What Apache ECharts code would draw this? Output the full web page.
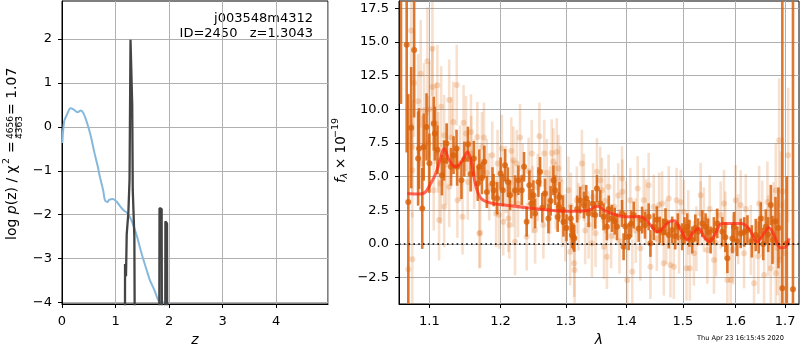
<!DOCTYPE html>
<html>
<head>
<meta charset="utf-8">
<script src="https://cdn.jsdelivr.net/npm/echarts@6/dist/echarts.min.js"></script>
<style>
html,body{margin:0;padding:0;background:#fff;}
#main{width:800px;height:350px;}
</style>
</head>
<body>
<div id="main"></div>
<script>
// ---- left panel: p(z) and chi2 ----
var pzZ = [0.006,0.04,0.09,0.16,0.22,0.29,0.35,0.40,0.47,0.54,0.60,0.66,0.71,0.77,0.80,0.85,0.88,0.95,1.02,1.08,1.15,1.22,1.28,1.33,1.40,1.46,1.52,1.58,1.64,1.71,1.76,1.80,1.86,1.96];
var pzLog = [-0.37,0.12,0.27,0.42,0.39,0.33,0.37,0.31,0.08,-0.22,-0.56,-0.86,-1.15,-1.45,-1.66,-1.71,-1.66,-1.64,-1.70,-1.80,-1.90,-1.96,-2.08,-2.23,-2.49,-2.76,-3.02,-3.25,-3.48,-3.67,-3.82,-3.95,-3.99,-4.0];

var chiZ = [1.175,1.178,1.19,1.196,1.209,1.24,1.262,1.28,1.295,1.312,1.322,1.346,1.352,1.364,1.815,1.822,1.862,1.868,1.928,1.932,1.962,1.968];
var chiVal = [-6,-3.12,-3.2,-3.4,-2.45,-1.95,-1.2,1.98,1.98,0.5,-1.43,-1.45,-2.5,-6,-6,-1.85,-1.87,-6,-6,-2.15,-2.2,-6];

var zTicks = [-4,-3,-2,-1,0,1,2];

// ---- right panel: spectrum ----
var modelWave = [1.0708,1.0862,1.0929,1.1019,1.1087,1.1156,1.1201,1.1270,1.1363,1.1456,1.1526,1.1575,1.1646,1.1717,1.1836,1.2057,1.2497,1.3018,1.3341,1.3504,1.3670,1.4013,1.4243,1.4419,1.4541,1.4749,1.4840,1.4961,1.5085,1.5178,1.5296,1.5392,1.5486,1.5613,1.5742,1.6098,1.6262,1.6430,1.6563,1.6665,1.6768,1.6906,1.6975,1.7080];
var modelFlux = [3.76,3.72,3.78,4.5,5.24,6.47,7.09,6.22,5.73,6.22,6.84,6.22,4.25,3.40,3.07,2.89,2.64,2.44,2.47,2.81,2.40,2.02,2.02,1.41,0.91,1.65,1.73,1.04,0.30,0.79,1.16,0.54,0.17,0.79,1.53,1.53,1.16,0.17,0.79,1.21,0.67,-0.27,-0.27,0.42];

var darkWave = [1.0625,1.0699,1.0720,1.0758,1.0797,1.0850,1.0862,1.0905,1.0924,1.0962,1.1059,1.1073,1.1170,1.1236,1.1296,1.1372,1.1380,1.1441,1.1532,1.1615,1.1671,1.1694,1.1765,1.1802,1.1883,1.1900,1.2002,
  1.2034,1.2067,1.2141,1.2216,1.2266,1.2316,1.2351,1.2391,1.2432,1.2494,1.2519,1.2571,1.2596,1.2673,1.2725,1.2803,1.2830,1.2888,1.2898,1.2952,1.2961,1.3079,1.3095,1.3121,1.3134,1.3229,1.3328,1.3366,1.3475,1.3503,1.3558,1.3613,
  1.3669,1.3754,1.3839,1.3924,1.3951,1.4037,1.4124,1.4211,1.4270,1.4386,1.4416,1.4475,1.4582,1.4684,1.4744,1.4805,1.4908,1.4988,1.5080,1.5173,1.5279,1.5361,
  1.5423,1.5518,1.5645,1.5742,1.5839,1.5937,1.5968,1.6100,1.6233,1.6399,1.6500,1.6601,1.6704,1.6738,1.6860,1.6941,1.7035,1.7163,
  1.1000,1.1110,1.1200,1.1330,1.1480,1.1570,1.1730,1.1950,1.2110,1.2460,1.2630,1.2760,1.2870,1.3010,1.3180,1.3290,1.3430,1.3700,1.3800,
  1.3980,1.4080,1.4320,1.4530,1.4640,1.4860,1.5030,1.5120,1.5230,1.5470,1.5580,1.5800,1.6030,1.6170,1.6320,1.6460,1.6550,1.6650,1.6800];
var darkFlux = [20.0,14.8,3.13,8.64,14.4,6.35,7.09,2.64,7.2,8.69,8.94,8.2,5.11,7.46,5.73,7.09,5.73,4.74,7.41,6.35,4.5,5.73,6.1,3.87,4.5,4.0,5.23,
  4.0,5.85,3.63,4.0,4.74,4.0,5.73,1.65,4.37,3.63,2.27,4.6,5.36,3.75,1.9,4.74,4.0,2.76,3.5,2.52,1.65,1.9,0.67,0.54,0.42,3.26,3.38,2.27,2.15,4.12,3.01,2.02,
  1.28,1.9,1.28,2.27,-0.2,0.54,2.15,1.16,1.78,2.02,0.05,1.28,1.04,1.65,0.67,1.04,1.28,0.54,1.28,0.30,0.91,1.53,
  1.28,0.30,1.53,0.91,-1.06,0.42,1.28,0.79,1.04,0.67,1.9,1.28,2.89,0.3,1.2,-3.28,0.05,-3.36,
  6.0,7.0,6.2,6.6,6.3,5.2,4.9,3.4,4.6,3.0,2.7,3.2,2.0,1.2,2.6,2.9,3.0,2.6,1.7,
  1.3,1.5,1.4,1.8,0.9,0.6,1.0,0.8,1.2,0.9,1.0,0.5,0.2,0.9,0.2,0.5,0.0,0.7,1.7];
var darkErr = [9.6,8,8,4.5,5,3.5,3,3,2.5,2.5,2,2,1.5,1.5,1.4,1.4,1.4,1.4,1.3,1.3,1.3,1.3,1.2,1.2,1.2,1.2,1.2,
  1.2,1.2,1.1,1.1,1.1,1.1,1.1,1.1,1.1,1.1,1.1,1.1,1.1,1.1,1.1,1.1,1.1,1.1,1.1,1.1,1.1,1.0,1.0,1.0,1.0,1.0,1.0,1.0,1.0,1.0,1.0,1.0,
  1.0,1.0,1.0,1.0,1.0,1.0,1.0,1.0,1.0,1.0,1.0,1.0,1.0,1.0,1.0,1.0,1.0,1.0,1.0,1.0,1.0,1.0,
  1.0,1.0,1.1,1.1,1.1,1.1,1.1,1.1,1.1,1.2,1.2,1.3,1.5,1.8,3,22,5,25,
  2.2,1.8,1.5,1.4,1.3,1.3,1.2,1.2,1.1,1.1,1.1,1.1,1.1,1.0,1.0,1.0,1.0,1.0,1.0,
  1.0,1.0,1.0,1.0,1.0,1.0,1.0,1.0,1.0,1.0,1.0,1.1,1.1,1.1,1.2,1.2,1.2,1.3,1.8];

var lightWave = [1.0720,1.0757,1.0773,1.0773,1.0773,1.0796,1.0884,1.0929,1.0974,1.1041,1.1041,1.1059,1.1086,1.1108,1.1132,1.1156,1.1201,1.1201,1.1270,1.1270,1.1326,1.1375,1.1384,1.1456,1.1505,1.1574,1.1580,1.1665,1.1693,1.1705,1.1731,1.1836,1.1936,1.1957,1.1980,
  1.2021,1.2041,1.2116,1.2131,1.2191,1.2216,1.2241,1.2291,1.2186,1.2331,1.2391,1.2468,1.2519,1.2585,1.2647,1.2660,1.2751,1.2777,1.2803,1.2856,1.2882,1.2940,1.3041,1.3068,1.3132,1.3140,1.3175,1.3202,1.3257,1.3366,1.3420,1.3503,1.3558,
  1.3586,1.3620,1.3669,1.3697,1.3790,1.3924,1.3930,1.4013,1.4066,1.4100,1.4193,1.4240,1.4299,1.4386,1.4416,1.4475,1.4624,1.4654,1.4744,1.4774,1.4835,1.4885,1.5019,1.5067,1.5128,1.5204,1.5329,1.5330,
  1.5455,1.5582,1.5710,1.5774,1.5839,1.5903,1.6001,1.6100,1.6166,1.6365,1.6466,1.6567,1.6635,1.6704,1.6806,1.6806,1.6875,1.6890,1.6910,1.6990,1.7062,
  1.0850,1.0905,1.0990,1.1000,1.1120,1.1160,1.1230,1.1300,1.1420,1.1470,1.1530,1.1620,1.1760,1.1800,1.1880,1.2080,1.2160,1.2260,1.2420,1.2480,
  1.2560,1.2700,1.2730,1.2840,1.2910,1.2990,1.3080,1.3290,1.3310,1.3440,1.3480,1.3640,1.3740,1.3860,1.3880,1.3990,1.4160,1.4340,1.4530,1.4570,
  1.4700,1.4930,1.4960,1.5100,1.5250,1.5390,1.5500,1.5620,1.5800,1.5950,1.6050,1.6200,1.6300,1.6450,1.6530,1.6650,1.6760,1.6840,1.6950];
var lightFlux = [-1.87,15.85,7.2,5.48,-1.13,11.95,12.64,9.93,13.56,14.5,11.65,4.0,8.94,11.78,1.78,4.5,8.07,2.76,10.7,4.25,9.06,11.8,3.26,2.02,8.2,8.32,6.72,7.95,0.79,0.84,7.2,4.25,2.27,5.98,2.15,
  7.09,1.65,1.9,1.41,6.22,0.17,5.98,7.9,3.75,4.98,0.54,6.72,1.04,8.0,1.41,6.72,3.26,6.76,6.1,6.84,5.6,2.27,4.0,-0.57,-1.43,-1.93,3.26,2.02,5.98,1.41,0.05,5.36,4.74,
  4.0,-0.2,-0.94,4.25,2.76,4.86,3.88,-2.67,3.26,-2.05,4.12,-0.32,3.26,4.37,-1.68,2.76,3.01,-1.43,3.38,-1.56,-1.68,3.26,2.39,-1.8,-1.8,-0.69,2.27,3.63,
  -0.44,-1.19,2.15,3.01,-2.67,-2.67,3.26,2.89,-0.69,-2.91,3.01,-2.30,3.13,-1.8,4.0,-2.17,7.7,-1.19,2.89,-0.69,6.6,
  10.6,6.0,7.5,10.0,6.8,10.2,5.9,7.9,6.0,9.0,4.6,5.2,7.9,5.3,6.6,4.8,6.9,3.0,5.4,3.3,
  4.2,5.3,2.6,3.6,4.8,1.2,2.8,4.2,1.0,3.5,0.8,3.2,0.6,3.6,0.2,2.3,1.0,2.4,0.4,2.9,
  0.9,0.2,3.1,1.6,0.4,1.8,2.6,0.1,1.4,-0.4,1.1,2.6,0.3,-0.9,1.9,0.6,1.6,-0.3,3.9];
var lightErr = [3,4,3.5,3.5,3.5,4,4,3.5,4,3.5,3,3,3,3,3,3,3,3,3,3,3,3,2.8,2.8,2.8,2.8,2.8,2.6,2.6,2.6,2.6,2.5,2.5,2.5,2.5,
  2.5,2.5,2.5,2.5,2.5,2.5,2.5,2.5,2.5,2.5,2.5,2.5,2.5,2.5,2.5,2.5,2.5,2.5,2.5,2.5,2.5,2.5,2.5,2.5,2.5,2.5,2.5,2.5,2.5,2.5,2.5,2.5,2.5,
  2.4,2.4,2.4,2.4,2.4,2.4,2.4,2.4,2.4,2.4,2.4,2.4,2.4,2.4,2.4,2.4,2.4,2.4,2.4,2.4,2.4,2.4,2.4,2.4,2.4,2.4,2.4,2.4,
  2.5,2.5,2.5,2.5,2.6,2.6,2.6,2.6,2.6,2.8,2.8,3,3,3,3.5,3.5,4.6,3.5,4,4,5,
  3.5,3.5,3.5,3.5,3,3,3,3,2.8,2.8,2.8,2.6,2.6,2.5,2.5,2.5,2.5,2.5,2.5,2.5,
  2.5,2.5,2.5,2.5,2.5,2.5,2.5,2.5,2.5,2.5,2.5,2.4,2.4,2.4,2.4,2.4,2.4,2.4,2.4,2.4,
  2.4,2.4,2.4,2.4,2.4,2.4,2.5,2.5,2.5,2.6,2.6,2.6,2.6,2.8,2.8,3,3,3.5,4];

var waveTicks = [1.1,1.2,1.3,1.4,1.5,1.6,1.7];
var fluxTicks = [-2.5,0,2.5,5,7.5,10,12.5,15,17.5];

// ---- helpers ----
function lg(v){ return Math.log(v)/Math.LN10; }
function minus(s){ return String(s).replace('-', '\u2212'); }

function pairs(xs, ys, fx){
  var out = [];
  for(var i=0;i<xs.length;i++){
    out.push([fx ? fx(xs[i]) : xs[i], ys[i]]);
  }
  return out;
}
function bars(xs, ys, es){
  var out = [];
  for(var i=0;i<xs.length;i++){
    out.push([lg(xs[i]), ys[i]-es[i], ys[i]+es[i]]);
  }
  return out;
}
function barRenderer(color, width){
  return function(params, api){
    var x = api.value(0);
    var p1 = api.coord([x, api.value(1)]);
    var p2 = api.coord([x, api.value(2)]);
    var cs = params.coordSys;
    var top = cs.y, bot = cs.y + cs.height;
    var y1 = Math.min(Math.max(p1[1], top), bot);
    var y2 = Math.min(Math.max(p2[1], top), bot);
    return {type:'line', shape:{x1:p1[0], y1:y1, x2:p2[0], y2:y2}, style:{stroke:color, lineWidth:width}};
  };
}

var font = 'DejaVu Sans';
var gridColor = '#b0b0b0';
var dark = '#d9620a';

var axisCommon = {
  axisLine:{show:true, onZero:false, lineStyle:{color:'#000', width:1}},
  axisTick:{show:true, length:4, lineStyle:{color:'#000'}},
  splitLine:{show:true, lineStyle:{color:gridColor, width:1}}
};

var chart = echarts.init(document.getElementById('main'));

var option = {
  animation:false,
  backgroundColor:'#fff',
  grid:[
    {left:62, top:1, width:266, height:303, outerBoundsMode:'none', containLabel:false,
      show:true, borderColor:'#000', borderWidth:1, backgroundColor:'transparent'},
    {left:399, top:1, width:400, height:303, outerBoundsMode:'none', containLabel:false,
      show:true, borderColor:'#000', borderWidth:1, backgroundColor:'transparent'}
  ],
  xAxis:[
    echarts.util.merge({
      gridIndex:0, type:'value', min:0, max:4.97, interval:1,
      name:'z', nameLocation:'middle', nameGap:29,
      nameTextStyle:{fontFamily:font, fontSize:14, fontStyle:'italic', color:'#000'},
      axisLabel:{margin:11, fontFamily:font, fontSize:13, color:'#000', showMaxLabel:false}
    }, axisCommon),
    echarts.util.merge({
      gridIndex:1, type:'value', min:lg(1.0599), max:lg(1.729),
      name:'\u03bb', nameLocation:'middle', nameGap:29,
      nameTextStyle:{fontFamily:font, fontSize:14, fontStyle:'italic', color:'#000'},
      axisTick:{customValues:waveTicks.map(lg)},
      axisLabel:{margin:11, fontFamily:font, fontSize:13, color:'#000', customValues:waveTicks.map(lg),
        formatter:function(v){ return Math.pow(10, v).toFixed(1); }}
    }, axisCommon)
  ],
  yAxis:[
    echarts.util.merge({
      gridIndex:0, type:'value', min:-4.03, max:2.86,
      axisTick:{customValues:zTicks},
      axisLabel:{margin:10, fontFamily:font, fontSize:13, color:'#000', customValues:zTicks,
        formatter:function(v){ return minus(v); }}
    }, axisCommon),
    echarts.util.merge({
      gridIndex:1, type:'value', min:-4.45, max:18.04,
      axisTick:{customValues:fluxTicks},
      axisLabel:{margin:10, fontFamily:font, fontSize:13, color:'#000', customValues:fluxTicks,
        formatter:function(v){ return minus(v.toFixed(1)); }}
    }, axisCommon)
  ],
  series:[
    {type:'line', xAxisIndex:0, yAxisIndex:0, data:pairs(pzZ, pzLog), showSymbol:false, smooth:0.3,
      lineStyle:{color:'#86b8dc', width:2}, z:2},
    {type:'line', xAxisIndex:0, yAxisIndex:0, data:pairs(chiZ, chiVal), showSymbol:false,
      lineStyle:{color:'#444', width:2.3}, z:3},
    {type:'custom', xAxisIndex:1, yAxisIndex:1, data:bars(lightWave, lightFlux, lightErr),
      encode:{x:0, y:[1,2]}, renderItem:barRenderer('rgba(217,98,10,0.2)', 2.6), z:2},
    {type:'scatter', xAxisIndex:1, yAxisIndex:1, data:pairs(lightWave, lightFlux, lg),
      symbolSize:6, itemStyle:{color:'rgba(217,98,10,0.28)'}, z:2},
    {type:'custom', xAxisIndex:1, yAxisIndex:1, data:bars(darkWave, darkFlux, darkErr),
      encode:{x:0, y:[1,2]}, renderItem:barRenderer('rgba(217,98,10,0.85)', 2.6), z:3},
    {type:'scatter', xAxisIndex:1, yAxisIndex:1, data:pairs(darkWave, darkFlux, lg),
      symbolSize:6, itemStyle:{color:dark}, z:3},
    {type:'line', xAxisIndex:1, yAxisIndex:1, data:pairs(modelWave, modelFlux, lg), showSymbol:false, smooth:0.4,
      lineStyle:{color:'rgba(255,40,20,0.7)', width:3}, z:4},
    {type:'line', xAxisIndex:1, yAxisIndex:1, data:[[lg(1.0599),0],[lg(1.729),0]], showSymbol:false,
      lineStyle:{color:'#000', width:1.6, type:[1.6,3.2]}, z:5}
  ],
  graphic:[
    {type:'text', right:487, top:12, style:{text:'j003548m4312', font:'13px DejaVu Sans', fill:'#000', textAlign:'right'}},
    {type:'text', right:487, top:27, style:{text:'ID=2450   z=1.3043', font:'13px DejaVu Sans', fill:'#000', textAlign:'right'}},
    {type:'text', left:697, top:335, style:{text:'Thu Apr 23 16:15:45 2020', font:'6.6px DejaVu Sans', fill:'#000'}},
    // left y title, rotated to read upwards
    {type:'group', x:12, y:240, rotation:Math.PI/2, children:[
      {type:'text', x:0, y:0, style:{text:'log {i|p}(z) / \u03c7', font:'14px DejaVu Sans', fill:'#000', verticalAlign:'middle',
        rich:{i:{fontStyle:'italic', fontSize:14, fontFamily:font}}}},
      {type:'text', x:76, y:-5, style:{text:'2', font:'9.5px DejaVu Sans', fill:'#000', verticalAlign:'middle'}},
      {type:'text', x:87, y:0, style:{text:'=', font:'14px DejaVu Sans', fill:'#000', verticalAlign:'middle'}},
      {type:'text', x:112.5, y:-1, style:{text:'4656', font:'9px DejaVu Sans', fill:'#000', align:'center', verticalAlign:'middle'}},
      {type:'rect', shape:{x:102, y:3.7, width:21, height:0.8}, style:{fill:'#000'}},
      {type:'text', x:112.5, y:8, style:{text:'4363', font:'9px DejaVu Sans', fill:'#000', align:'center', verticalAlign:'middle'}},
      {type:'text', x:125, y:0, style:{text:'= 1.07', font:'14px DejaVu Sans', fill:'#000', verticalAlign:'middle'}}
    ]},
    // right y title
    {type:'group', x:341, y:183, rotation:Math.PI/2, children:[
      {type:'text', x:0, y:0, style:{text:'f', font:'italic 13.5px DejaVu Sans', fill:'#000', verticalAlign:'middle'}},
      {type:'text', x:4.5, y:3.5, style:{text:'\u03bb', font:'italic 9.5px DejaVu Sans', fill:'#000', verticalAlign:'middle'}},
      {type:'text', x:14, y:0, style:{text:'\u00d7 10', font:'13.5px DejaVu Sans', fill:'#000', verticalAlign:'middle'}},
      {type:'text', x:45, y:-5, style:{text:'\u221219', font:'9.5px DejaVu Sans', fill:'#000', verticalAlign:'middle'}}
    ]}
  ]
};

chart.setOption(option);
</script>
</body>
</html>
